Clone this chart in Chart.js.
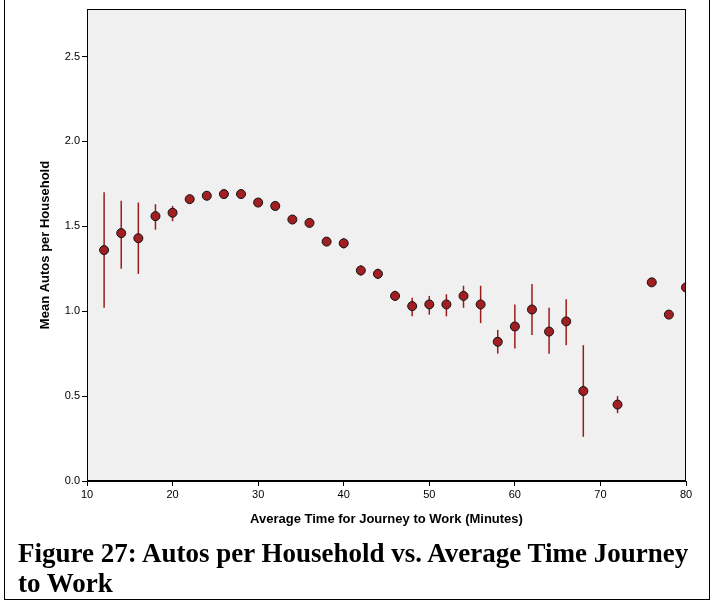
<!DOCTYPE html>
<html><head><meta charset="utf-8">
<script src="https://cdn.jsdelivr.net/npm/chart.js@4"></script>
<style>
html,body{margin:0;padding:0;background:#fff;}
#frame{position:absolute;left:4px;top:0;width:704px;height:599px;border:1px solid #000;border-top:none;}
#wrap{position:absolute;left:0;top:0;width:714px;height:540px;}
#cap{position:absolute;left:18px;top:538px;width:680px;font:bold 27px "Liberation Serif","Times New Roman",serif;line-height:30px;color:#000;}
</style></head><body>
<div id="frame"></div>
<div id="wrap"><canvas id="c"></canvas></div>
<div id="cap">Figure 27: Autos per Household vs. Average Time Journey to Work</div>
<script>
const minutes = [12,14,16,18,20,22,24,26,28,30,32,34,36,38,40,42,44,46,48,50,52,54,56,58,60,62,64,66,68,72,76,78,80];
const means   = [1.36,1.46,1.43,1.56,1.58,1.66,1.68,1.69,1.69,1.64,1.62,1.54,1.52,1.41,1.40,1.24,1.22,1.09,1.03,1.04,1.04,1.09,1.04,0.82,0.91,1.01,0.88,0.94,0.53,0.45,1.17,0.98,1.14];
const lows    = [1.02,1.25,1.22,1.48,1.53,1.64,1.67,1.68,1.68,1.63,1.61,1.53,1.51,1.40,1.37,1.21,1.19,1.06,0.97,0.98,0.97,1.02,0.93,0.75,0.78,0.86,0.75,0.80,0.26,0.40,1.17,0.98,1.14];
const highs   = [1.70,1.65,1.64,1.63,1.62,1.68,1.69,1.70,1.70,1.65,1.63,1.55,1.53,1.42,1.43,1.27,1.25,1.12,1.08,1.09,1.10,1.15,1.15,0.89,1.04,1.16,1.02,1.07,0.80,0.50,1.17,0.98,1.14];
const yTicks  = [0,0.5,1.0,1.5,2.0,2.5];

const bgPlugin = {id:'bg',
 beforeDraw(ch){const a=ch.chartArea,c=ch.ctx;c.save();c.fillStyle='#f0f0f0';c.fillRect(a.left,a.top,a.right-a.left,a.bottom-a.top);c.restore();},
 beforeDatasetsDraw(ch){const c=ch.ctx,x=ch.scales.x,y=ch.scales.y;c.save();c.strokeStyle='#9b1b1b';c.lineWidth=1.5;
   minutes.forEach((m,i)=>{if(highs[i]-lows[i]<0.005)return;const px=x.getPixelForValue(m);c.beginPath();c.moveTo(px,y.getPixelForValue(lows[i]));c.lineTo(px,y.getPixelForValue(highs[i]));c.stroke();});c.restore();},
 afterDraw(ch){const a=ch.chartArea,c=ch.ctx;c.save();c.strokeStyle='#000';c.lineWidth=1;c.strokeRect(a.left+0.5,a.top+0.5,a.right-a.left-1,a.bottom-a.top-1);c.restore();}
};

new Chart(document.getElementById('c'),{
 type:'scatter',
 data:{datasets:[{data:minutes.map((m,i)=>({x:m,y:means[i]})),backgroundColor:'#a11f22',borderColor:'#111',borderWidth:1,pointRadius:4.5,pointHoverRadius:4.5}]},
 options:{responsive:true,maintainAspectRatio:false,animation:false,
  layout:{padding:{left:0,right:28,top:9,bottom:13}},
  plugins:{legend:{display:false},tooltip:{enabled:false}},
  scales:{
   x:{type:'linear',min:10,max:80,afterFit(s){s.height=46;},
      ticks:{stepSize:10,color:'#000',font:{family:'Arial, Liberation Sans',size:11},padding:2},
      grid:{drawOnChartArea:false,tickLength:5,color:'#000'},border:{color:'#000'},
      title:{display:true,text:'Average Time for Journey to Work (Minutes)',color:'#000',font:{family:'Arial, Liberation Sans',size:13,weight:'bold'},padding:{top:8,bottom:0}}},
   y:{min:0,max:2.78,afterFit(s){s.width=87;},
      afterBuildTicks(s){s.ticks=yTicks.map(v=>({value:v}));},
      ticks:{color:'#000',font:{family:'Arial, Liberation Sans',size:11},callback:v=>v.toFixed(1),padding:2},
      grid:{drawOnChartArea:false,tickLength:5,color:'#000'},border:{color:'#000'},
      title:{display:true,text:'Mean Autos per Household',color:'#000',font:{family:'Arial, Liberation Sans',size:13,weight:'bold'},padding:{top:38,bottom:0}}}
  }},
 plugins:[bgPlugin]
});
</script></body></html>
